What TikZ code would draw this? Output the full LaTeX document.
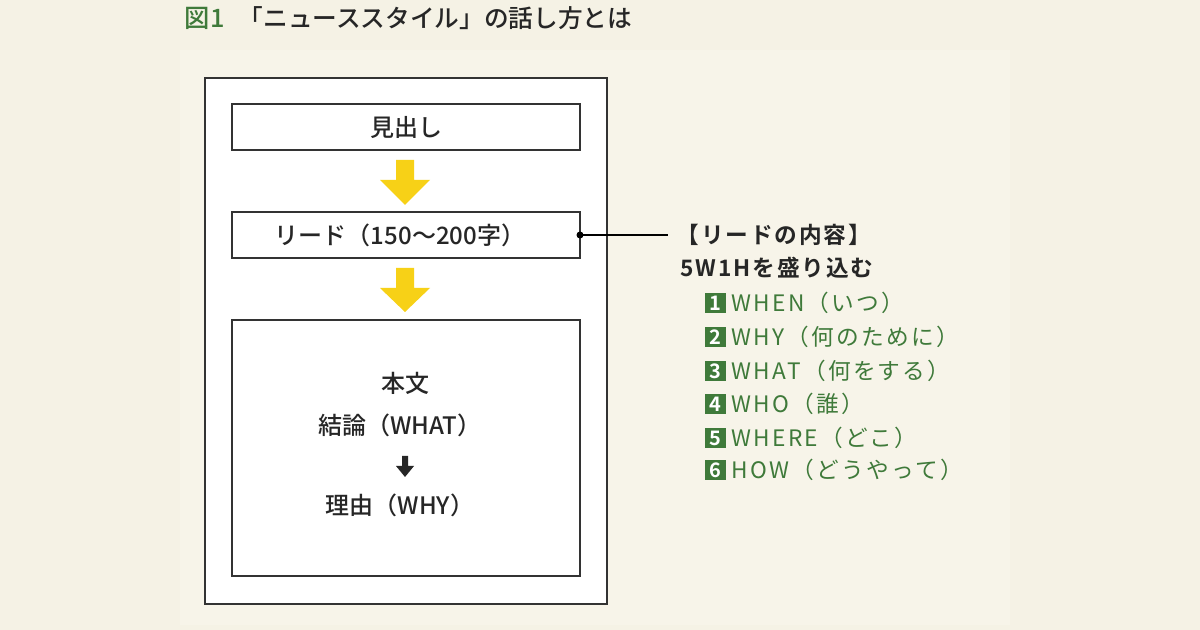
\documentclass[tikz,border=0pt]{standalone}
\usepackage{fontspec}
\setmainfont{Noto Sans CJK JP}[BoldFont={Noto Sans CJK JP Bold}]
\newfontfamily\spc{Noto Sans CJK JP}[LetterSpace=10]
\newfontfamily\spcb{Noto Sans CJK JP Bold}[LetterSpace=8]
\newfontfamily\med{Noto Sans CJK JP Medium}
\begin{document}
\begin{tikzpicture}[x=0.75pt,y=-0.75pt,
  box/.style={draw=black!80,line width=0.8pt,fill=white},
  main/.style={font=\med\fontsize{18}{20}\selectfont,text=black!85},
  side/.style={font=\spcb\fontsize{17}{20}\selectfont,text=black!85,anchor=west},
  item/.style={font=\spc\fontsize{17}{20}\selectfont,text=itemgreen,anchor=west},
  num/.style={fill=itemgreen,text=white,font=\fontsize{15}{15}\selectfont\bfseries,minimum size=15.5pt,inner sep=0pt,anchor=west}]
\definecolor{bg}{HTML}{F5F2E5}
\definecolor{panel}{HTML}{F7F4E9}
\definecolor{itemgreen}{HTML}{3F7A3A}
\definecolor{ylw}{HTML}{F7D117}
\useasboundingbox (0,0) rectangle (1200,630);
\fill[bg] (0,0) rectangle (1200,630);
\fill[panel] (180,50) rectangle (1010,625);
\node[anchor=west,font=\med\fontsize{19}{22}\selectfont,text=itemgreen] (fig) at (180,18) {図1};
\node[anchor=west,font=\med\fontsize{18.5}{22}\selectfont,text=black!85] (title) at (234,18) {「ニューススタイル」の話し方とは};
\draw[box] (205,78) rectangle (607,604);
\node[box,main,minimum width=348*0.75pt,minimum height=46*0.75pt] (mi) at (406,127) {見出し};
\node[box,main,minimum width=348*0.75pt,minimum height=46*0.75pt] (lead) at (406,235) {};
\node[main] (leadt) at (400,235) {リード（150〜200字）};
\node[box,minimum width=348*0.75pt,minimum height=256*0.75pt] (body) at (406,448) {};
\fill[ylw] (396,160) -- (414,160) -- (414,180) -- (430,180) -- (405,205) -- (380,180) -- (396,180) -- cycle;
\fill[ylw] (396,268) -- (414,268) -- (414,288) -- (430,288) -- (405,312) -- (380,288) -- (396,288) -- cycle;
\node[main] (hon) at (405,383) {本文};
\node[main] (ket) at (400,425) {結論（WHAT）};
\fill[black!85] (402,456) -- (408,456) -- (408,466) -- (414,466) -- (405,477) -- (396,466) -- (402,466) -- cycle;
\node[main] (riy) at (400,505) {理由（WHY）};
\coordinate (dot) at (580,235);
\coordinate (lend) at (668,235);
\fill[black] (dot) circle (3.5);
\draw[black,line width=0.8pt] (dot) -- (lend);
\node[side] (s1) at (672,235) {【リードの内容】};
\node[side] (s2) at (676,268) {5W1Hを盛り込む};
\foreach \i/\y/\t in {1/303/{WHEN（いつ）},2/337/{WHY（何のために）},3/371/{WHAT（何をする）},4/404/{WHO（誰）},5/438/{WHERE（どこ）},6/470/{HOW（どうやって）}}{
  \node[num] (n\i) at (705,\y) {\i};
  \node[item] (t\i) at (727,\y) {\t};
}
\end{tikzpicture}
\end{document}
